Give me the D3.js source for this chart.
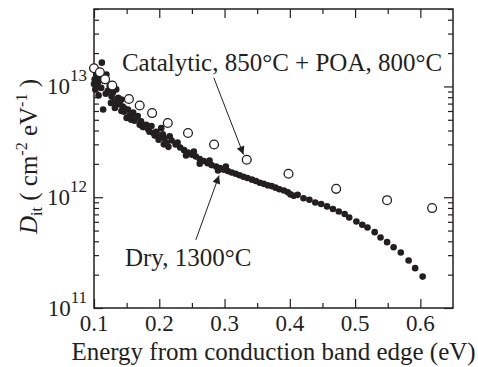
<!DOCTYPE html>
<html>
<head>
<meta charset="utf-8">
<script src="https://cdn.jsdelivr.net/npm/d3@7"></script>
</head>
<body style="margin:0">
<svg id="chart" width="478" height="367" style="font-family:'Liberation Serif'"></svg>
<script>
// Dry oxidation, 1300°C (filled dots)
const dryEnergy = [
  0.100, 0.101, 0.102, 0.1035, 0.104, 0.104, 0.106, 0.107, 0.109, 0.111, 0.112, 0.114, 0.116, 0.118, 0.119, 0.121, 0.124,
  0.126, 0.127, 0.129, 0.131, 0.132, 0.134, 0.136, 0.137, 0.139, 0.142, 0.142, 0.144, 0.146, 0.147, 0.150, 0.152, 0.155,
  0.157, 0.160, 0.162, 0.163, 0.167, 0.170, 0.172, 0.175, 0.176, 0.180, 0.183, 0.185, 0.188, 0.191, 0.193, 0.195, 0.196,
  0.199, 0.200, 0.203, 0.2055, 0.207, 0.208, 0.211, 0.214, 0.216,
  0.219, 0.225, 0.228, 0.232, 0.238, 0.241, 0.244, 0.250, 0.253, 0.256, 0.262, 0.262, 0.268,
  0.274, 0.277, 0.280, 0.287, 0.290, 0.293, 0.299, 0.302, 0.305, 0.311, 0.317, 0.323, 0.329,
  0.335, 0.342, 0.348, 0.354, 0.360, 0.366, 0.372, 0.378, 0.384, 0.391, 0.397, 0.401, 0.406,
  0.412, 0.421, 0.430, 0.439, 0.448, 0.457, 0.466, 0.475, 0.484, 0.491, 0.502, 0.511, 0.519,
  0.530, 0.539, 0.549, 0.559, 0.570, 0.582, 0.592, 0.6035
];
const dryDit = [
  1.05e13, 1.16e13, 9.4e12, 1.28e13, 1.37e13, 1.0e13, 1.08e13, 8.3e12, 1.2e13, 9.7e12, 1.64e13, 6.2e12, 1.12e13, 8.6e12, 1.28e13, 9.1e12, 1.01e13,
  7.1e12, 8.1e12, 8.8e12, 7.3e12, 6.4e12, 9.4e12, 6.9e12, 7.9e12, 6.9e12, 7.6e12, 6.0e12, 6.6e12, 5.9e12, 6.3e12, 5.2e12, 6.2e12, 5.5e12,
  5.0e12, 5.8e12, 4.9e12, 5.2e12, 5.4e12, 4.5e12, 4.85e12, 4.3e12, 4.3e12, 4.5e12, 4.1e12, 3.9e12, 4.4e12, 3.8e12, 3.6e12, 3.9e12, 3.8e12,
  3.3e12, 3.45e12, 4.2e12, 3.7e12, 3.0e12, 3.4e12, 3.1e12, 2.85e12, 3.55e12,
  3.25e12, 2.99e12, 3.11e12, 2.81e12, 2.66e12, 2.38e12, 2.53e12, 2.42e12, 2.58e12, 2.33e12, 2.21e12, 2.01e12, 2.12e12,
  2.03e12, 2.14e12, 1.95e12, 1.89e12, 1.74e12, 1.83e12, 1.77e12, 1.89e12, 1.72e12, 1.67e12, 1.63e12, 1.58e12, 1.53e12,
  1.49e12, 1.44e12, 1.40e12, 1.35e12, 1.32e12, 1.28e12, 1.26e12, 1.22e12, 1.18e12, 1.15e12, 1.11e12, 1.06e12, 1.03e12,
  1.05e12, 9.8e11, 9.5e11, 8.97e11, 8.68e11, 8.26e11, 7.82e11, 7.44e11, 7.05e11, 6.56e11, 6.04e11, 5.64e11, 5.33e11,
  4.84e11, 4.33e11, 3.93e11, 3.54e11, 3.17e11, 2.68e11, 2.29e11, 1.92e11
];

// Catalytic, 850°C + POA, 800°C (open circles)
const catEnergy = [0.100, 0.109, 0.117, 0.128, 0.1535, 0.170, 0.189, 0.213, 0.244, 0.284, 0.334, 0.398, 0.471, 0.549, 0.618];
const catDit = [1.46e13, 1.34e13, 1.16e13, 1.02e13, 7.7e12, 6.73e12, 5.75e12, 4.68e12, 3.8e12, 2.99e12, 2.18e12, 1.63e12, 1.19e12, 9.4e11, 7.98e11];

const xTicks = [0.1, 0.2, 0.3, 0.4, 0.5, 0.6];
const xMinorTicks = [0.15, 0.25, 0.35, 0.45, 0.55];
const yTicks = [1e11, 1e12, 1e13];
const yTickExponents = ["11", "12", "13"];

const ink = "#231f20";
const margin = { top: 9, right: 25, bottom: 59, left: 94 };
const width = 478 - margin.left - margin.right;
const height = 367 - margin.top - margin.bottom;

const root = d3.select("#chart");
const svg = root.append("g")
  .attr("transform", "translate(" + margin.left + "," + margin.top + ")");

const x = d3.scaleLinear().domain([0.1, 0.65]).range([0, width]);
const y = d3.scaleLog().domain([1e11, 5e13]).range([height, 0]);

const yMinor = y.ticks().filter(t => yTicks.indexOf(t) < 0);

function styleAxis(g) {
  g.attr("font-family", null);
  g.select(".domain").remove();
  g.selectAll("line").attr("stroke", ink).attr("stroke-width", 1.2);
}

// inward ticks on all four sides
svg.append("g").attr("transform", "translate(0," + height + ")")
  .call(d3.axisBottom(x).tickValues(xTicks).tickSize(-9).tickFormat(""))
  .call(styleAxis);
svg.append("g").attr("transform", "translate(0," + height + ")")
  .call(d3.axisBottom(x).tickValues(xMinorTicks).tickSize(-5).tickFormat(""))
  .call(styleAxis);
svg.append("g")
  .call(d3.axisTop(x).tickValues(xTicks).tickSize(-9).tickFormat(""))
  .call(styleAxis);
svg.append("g")
  .call(d3.axisTop(x).tickValues(xMinorTicks).tickSize(-5).tickFormat(""))
  .call(styleAxis);
svg.append("g")
  .call(d3.axisLeft(y).tickValues(yTicks).tickSize(-9).tickFormat(""))
  .call(styleAxis);
svg.append("g")
  .call(d3.axisLeft(y).tickValues(yMinor).tickSize(-5).tickFormat(""))
  .call(styleAxis);
svg.append("g").attr("transform", "translate(" + width + ",0)")
  .call(d3.axisRight(y).tickValues(yTicks).tickSize(-9).tickFormat(""))
  .call(styleAxis);
svg.append("g").attr("transform", "translate(" + width + ",0)")
  .call(d3.axisRight(y).tickValues(yMinor).tickSize(-5).tickFormat(""))
  .call(styleAxis);

svg.append("rect")
  .attr("width", width)
  .attr("height", height)
  .attr("fill", "none")
  .attr("stroke", ink)
  .attr("stroke-width", 1.5);

// all text goes into one group, outside the axis groups
const labels = root.append("g")
  .attr("transform", "translate(" + margin.left + "," + margin.top + ")")
  .attr("fill", ink);

// tick labels
labels.selectAll(".xlabel")
  .data(xTicks)
  .enter()
  .append("text")
  .attr("x", d => x(d))
  .attr("y", height + 23)
  .attr("text-anchor", "middle")
  .attr("font-size", 23)
  .text(d => d.toFixed(1));

const yl = labels.selectAll(".ylabel")
  .data(yTicks)
  .enter()
  .append("text")
  .attr("x", -7)
  .attr("y", d => y(d) + 7.5)
  .attr("text-anchor", "end")
  .attr("font-size", 23);
yl.append("tspan").text("10");
yl.append("tspan")
  .attr("dy", -13)
  .attr("font-size", 17)
  .text((d, i) => yTickExponents[i]);

// axis titles
labels.append("text")
  .attr("x", width / 2)
  .attr("y", height + 52)
  .attr("text-anchor", "middle")
  .attr("font-size", 25)
  .text("Energy from conduction band edge (eV)");

const yt = labels.append("text")
  .attr("transform", "translate(" + (37 - margin.left) + "," + (156.5 - margin.top) + ") rotate(-90)")
  .attr("text-anchor", "middle")
  .attr("font-size", 25);
yt.append("tspan").attr("font-style", "italic").text("D");
yt.append("tspan").attr("font-size", 16).attr("dy", 5).text("it");
yt.append("tspan").attr("dy", -5).text("\u00a0(\u00a0cm");
yt.append("tspan").attr("font-size", 16).attr("dy", -10).text("-2");
yt.append("tspan").attr("dy", 10).text("\u00a0eV");
yt.append("tspan").attr("font-size", 16).attr("dy", -10).text("-1");
yt.append("tspan").attr("dy", 10).text("\u00a0)");

// data
const dry = dryEnergy.map((e, i) => ({ e: e, d: dryDit[i] }));
const cat = catEnergy.map((e, i) => ({ e: e, d: catDit[i] }));

svg.selectAll(".dry")
  .data(dry)
  .enter()
  .append("circle")
  .attr("cx", d => x(d.e))
  .attr("cy", d => y(d.d))
  .attr("r", 3.3)
  .attr("fill", ink);

svg.selectAll(".cat")
  .data(cat)
  .enter()
  .append("circle")
  .attr("cx", d => x(d.e))
  .attr("cy", d => y(d.d))
  .attr("r", 4.4)
  .attr("fill", "#fff")
  .attr("stroke", ink)
  .attr("stroke-width", 1.3);

// annotations
svg.append("defs").append("marker")
  .attr("id", "head")
  .attr("viewBox", "0 0 10 10")
  .attr("refX", 10)
  .attr("refY", 5)
  .attr("markerWidth", 11)
  .attr("markerHeight", 8)
  .attr("markerUnits", "userSpaceOnUse")
  .attr("orient", "auto")
  .append("path")
  .attr("d", "M0,0 L10,5 L0,10 z")
  .attr("fill", ink);

const notes = [
  { text: "Catalytic, 850\u00b0C + POA, 800\u00b0C", tx: 0.1428, ty: 1.37e13, from: [0.2835, 1.2e13], to: [0.329, 2.43e12] },
  { text: "Dry, 1300\u00b0C", tx: 0.1474, ty: 2.4e11, from: [0.256, 4.12e11], to: [0.2916, 1.57e12] }
];

notes.forEach(n => {
  labels.append("text")
    .attr("x", x(n.tx))
    .attr("y", y(n.ty))
    .attr("font-size", 25)
    .text(n.text);
  svg.append("line")
    .attr("x1", x(n.from[0]))
    .attr("y1", y(n.from[1]))
    .attr("x2", x(n.to[0]))
    .attr("y2", y(n.to[1]))
    .attr("stroke", ink)
    .attr("stroke-width", 1)
    .attr("marker-end", "url(#head)");
});
</script>
</body>
</html>
